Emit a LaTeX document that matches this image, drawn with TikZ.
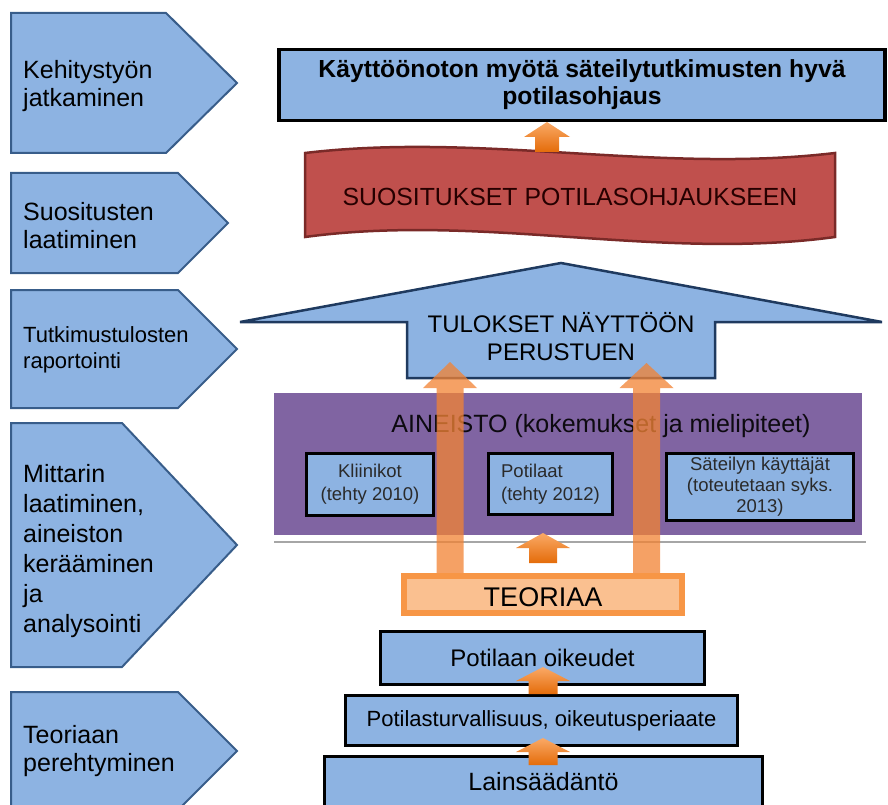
\documentclass[tikz,border=0pt]{standalone}
\usepackage{fontspec}
\setmainfont{Liberation Sans}
\definecolor{chevblue}{HTML}{8DB3E2}
\definecolor{chevedge}{HTML}{385D8A}
\definecolor{arrowedge}{HTML}{1F3A5F}
\definecolor{purp}{HTML}{8064A2}
\definecolor{bannerred}{HTML}{C0504D}
\definecolor{banneredge}{HTML}{7A2A28}
\definecolor{orng}{HTML}{F79646}
\definecolor{orngdark}{HTML}{E46C0A}
\definecolor{ornglight}{HTML}{FAA966}
\definecolor{orngpale}{HTML}{FAC090}
\definecolor{orngtall}{HTML}{F28334}
\definecolor{grayline}{HTML}{A6A6A6}
\definecolor{subtext}{HTML}{2A2A2A}
\newcommand{\blockuparrow}[7]{% style, cx, ytip, yhead, ybottom, headhalf, shafthalf
  \path[#1] (#2,#3) -- ({#2+#6},#4) -- ({#2+#7},#4) -- ({#2+#7},#5)
    -- ({#2-#7},#5) -- ({#2-#7},#4) -- ({#2-#6},#4) -- cycle;}
\tikzset{
  chev/.style={fill=chevblue, draw=chevedge, line width=2pt, line join=miter},
  chevtext/.style={anchor=west, align=left, inner sep=0pt, text=black,
    font=\fontsize{25}{28}\selectfont},
  bluebox/.style={fill=chevblue, draw=black, line width=3pt, inner sep=0pt, text=black},
  subbox/.style={fill=chevblue, draw=black, line width=3pt, inner sep=0pt, text=subtext,
    font=\fontsize{18.5}{23}\selectfont},
  smallarrow/.style={top color=ornglight, bottom color=orngdark, draw=none},
  tallarrow/.style={fill=orngtall, fill opacity=0.76, draw=none},
}
\begin{document}
\begin{tikzpicture}[x=1pt, y=-1pt]
\useasboundingbox (0,0) rectangle (888,805);
\clip (0,0) rectangle (888,805);

% ---- left chevrons ----
\draw[chev] (11,13) -- (166,13) -- (237,83) -- (166,153) -- (11,153) -- cycle;
\node[chevtext] (c1) at (23,86) {Kehitystyön\\jatkaminen};
\draw[chev] (11,173) -- (178,173) -- (228,223) -- (178,273) -- (11,273) -- cycle;
\node[chevtext] (c2) at (23,226) {Suositusten\\laatiminen};
\draw[chev] (11,290) -- (178,290) -- (237,349) -- (178,408) -- (11,408) -- cycle;
\node[chevtext, font=\fontsize{22}{26}\selectfont] (c3) at (23,350) {Tutkimustulosten\\raportointi};
\draw[chev] (11,423) -- (122,423) -- (237,545) -- (122,667) -- (11,667) -- cycle;
\node[chevtext, font=\fontsize{25}{30}\selectfont] (c4) at (23,551)
  {Mittarin\\laatiminen,\\aineiston\\kerääminen\\ja\\analysointi};
\draw[chev] (11,692) -- (178,692) -- (237,751) -- (178,810) -- (11,810) -- cycle;
\node[chevtext] (c5) at (23,751) {Teoriaan\\perehtyminen};

% ---- top goal box ----
\node[bluebox, line width=3.5pt, minimum width=606pt, minimum height=71pt, align=center,
  font=\bfseries\fontsize{24.7}{27}\selectfont] (goal) at (582,85)
  {Käyttöönoton myötä säteilytutkimusten hyvä\\potilasohjaus};

% ---- red wave banner ----
\path[fill=bannerred, draw=banneredge, line width=2.5pt]
  (305,153) .. controls (482,132) and (658,174) .. (835,153)
  -- (835,237) .. controls (658,261) and (482,213) .. (305,237) -- cycle;
\node[font=\fontsize{24.8}{28}\selectfont, text=black!85!red] (banner) at (570,197)
  {SUOSITUKSET POTILASOHJAUKSEEN};

% ---- big blue arrow ----
\path[fill=chevblue, draw=arrowedge, line width=2.5pt, line join=miter]
  (240,322) -- (561,263) -- (882,322) -- (715,322) -- (715,378) -- (407,378) -- (407,322) -- cycle;
\node[align=center, font=\fontsize{24}{28}\selectfont, text=black] (results) at (561,337)
  {TULOKSET NÄYTTÖÖN\\PERUSTUEN};

% ---- purple data box ----
\node[fill=purp, minimum width=588pt, minimum height=142pt, inner sep=0pt] (data) at (568,464) {};
\node[font=\fontsize{25}{28}\selectfont, text=black!90!purp] (datatitle) at (601,426)
  {AINEISTO (kokemukset ja mielipiteet)};
\node[subbox, minimum width=127pt, minimum height=62pt, align=center] (klin) at (370,484.5)
  {Kliinikot\\(tehty 2010)};
\node[subbox, minimum width=124pt, minimum height=61pt, align=left] (pot) at (550.5,484)
  {Potilaat\\(tehty 2012)};
\node[subbox, minimum width=187pt, minimum height=67pt, align=center,
  font=\fontsize{18.5}{21}\selectfont] (sat) at (760,487)
  {Säteilyn käyttäjät\\(toteutetaan syks.\\2013)};

% separator line
\coordinate (sepL) at (274,542);
\coordinate (sepR) at (866,542);
\draw[grayline, line width=2pt] (sepL) -- (sepR);

% ---- tall translucent arrows ----
\blockuparrow{tallarrow}{450}{362}{388}{575}{27}{13.5}
\blockuparrow{tallarrow}{646.5}{363}{388}{575}{27}{13.5}

% ---- TEORIAA ----
\node[fill=orngpale, draw=orng, line width=6pt, minimum width=278pt, minimum height=37pt,
  inner sep=0pt] (theory) at (543,594.5) {};
\node[font=\fontsize{27}{30}\selectfont, text=black] (theorytext) at (543,597) {TEORIAA};

% ---- foundation boxes ----
\node[bluebox, minimum width=324pt, minimum height=53pt, font=\fontsize{24}{28}\selectfont]
  (rights) at (542.5,658) {Potilaan oikeudet};
\node[bluebox, minimum width=392pt, minimum height=50pt, font=\fontsize{22}{26}\selectfont]
  (safety) at (541.5,720.5) {Potilasturvallisuus, oikeutusperiaate};
\node[bluebox, minimum width=438pt, minimum height=57pt] (law) at (543.5,785) {};
\node[font=\fontsize{25}{28}\selectfont, text=black] (lawtext) at (543.5,782) {Lainsäädäntö};

% ---- small orange arrows ----
\blockuparrow{smallarrow}{547}{122}{137}{152}{23}{12}
\blockuparrow{smallarrow}{543}{533}{548}{563}{27}{14}
\blockuparrow{smallarrow}{543}{667}{681}{694}{27}{14.5}
\blockuparrow{smallarrow}{543}{738}{752}{765}{27}{14.5}
\end{tikzpicture}
\end{document}
